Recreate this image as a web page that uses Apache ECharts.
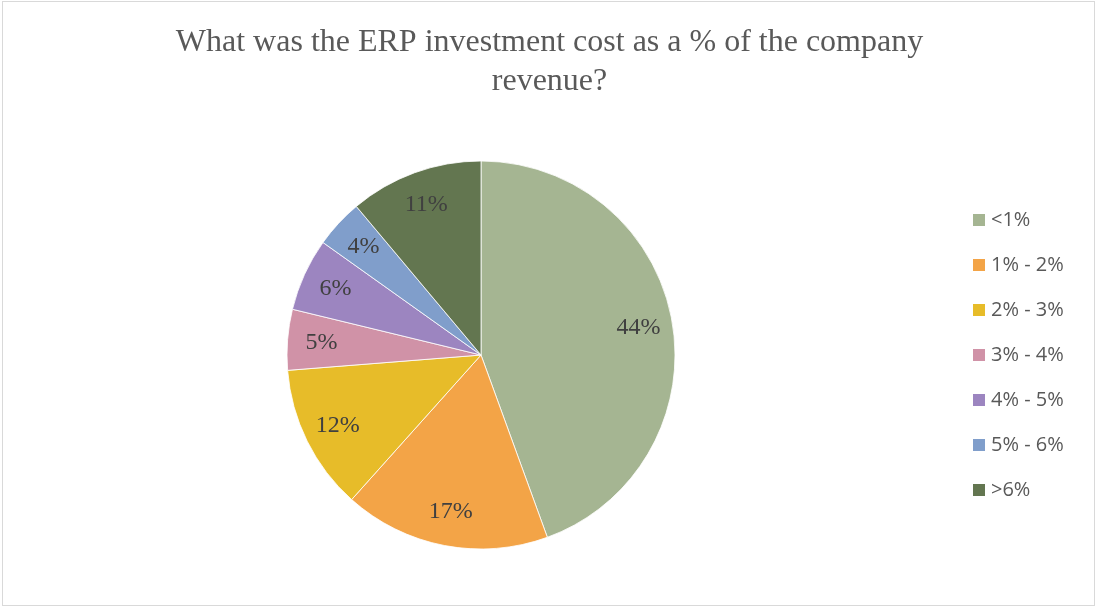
<!DOCTYPE html>
<html>
<head>
<meta charset="utf-8">
<script src="https://cdn.jsdelivr.net/npm/echarts@6/dist/echarts.min.js"></script>
<style>
  html, body { margin: 0; padding: 0; background: #fff; }
  #frame { position: absolute; left: 2px; top: 1px; width: 1093px; height: 605px; border: 1px solid #d9d9d9; box-sizing: border-box; }
  #chart { position: absolute; left: 0; top: 0; width: 1099px; height: 609px; }
</style>
</head>
<body>
<div id="frame"></div>
<div id="chart"></div>
<script>
// Share of ERP investment cost relative to company revenue
const categories = ['<1%', '1% - 2%', '2% - 3%', '3% - 4%', '4% - 5%', '5% - 6%', '>6%'];
const shares = [44, 17, 12, 5, 6, 4, 11];
const sliceColors = ['#A5B592', '#F3A447', '#E7BC29', '#D092A7', '#9C85C0', '#809ECB', '#637650'];

const pieData = categories.map((name, i) => ({ name, value: shares[i] }));

const chart = echarts.init(document.getElementById('chart'), null, { renderer: 'canvas' });
chart.setOption({
  animation: false,
  color: sliceColors,
  title: {
    text: 'What was the ERP investment cost as a % of the company\nrevenue?',
    left: 'center',
    top: 18,
    textStyle: {
      fontFamily: 'Liberation Serif',
      fontWeight: 'normal',
      fontSize: 32,
      lineHeight: 39,
      color: '#595959'
    }
  },
  legend: {
    orient: 'vertical',
    left: 966,
    top: 205,
    itemWidth: 14,
    itemHeight: 14,
    itemGap: 25,
    icon: 'rect',
    textStyle: { fontFamily: 'Open Sans', fontSize: 20, lineHeight: 20, color: '#595959' },
    data: categories
  },
  series: [
    {
      type: 'pie',
      center: [481, 355],
      radius: [0, 194],
      startAngle: 90,
      clockwise: true,
      silent: true,
      itemStyle: { borderColor: '#ffffff', borderWidth: 0.8 },
      label: { show: false },
      labelLine: { show: false },
      data: pieData
    },
    {
      // transparent ring used only to place the value labels near the rim
      type: 'pie',
      center: [481, 355],
      radius: [120, 194],
      startAngle: 90,
      clockwise: true,
      silent: true,
      itemStyle: { color: 'rgba(0,0,0,0)' },
      label: {
        show: true,
        position: 'inside',
        formatter: p => p.value + '%',
        fontFamily: 'Liberation Serif',
        fontSize: 24,
        color: '#404040'
      },
      labelLine: { show: false },
      data: pieData
    }
  ]
});
</script>
</body>
</html>
